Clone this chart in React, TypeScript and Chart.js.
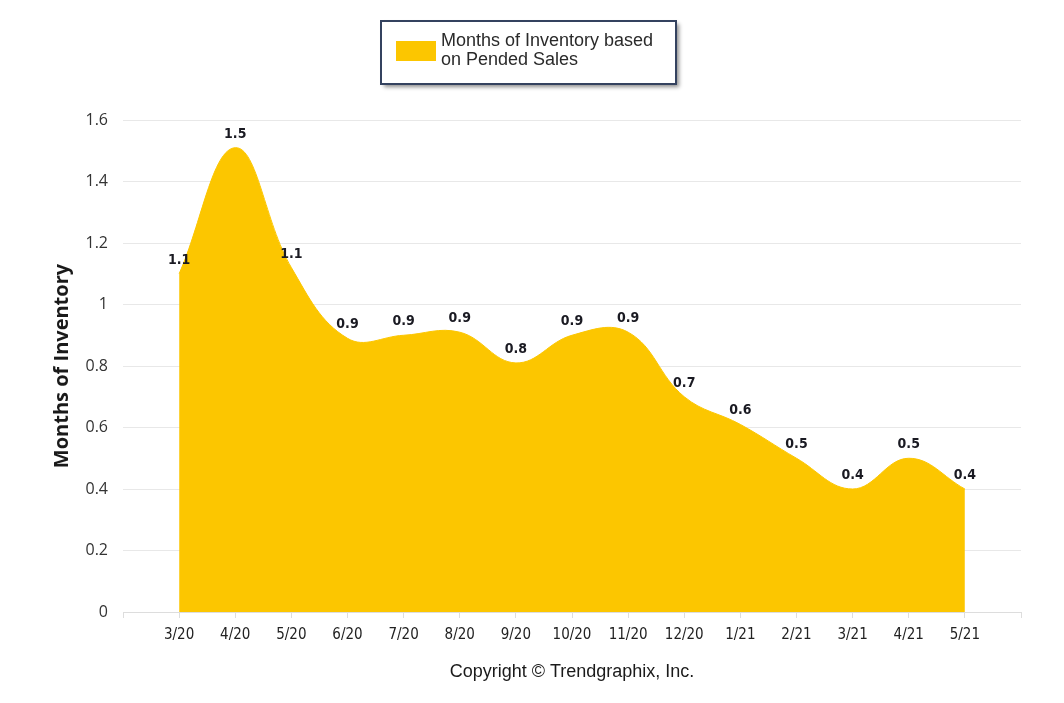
import React, { useEffect, useRef } from "react";
import { Chart, registerables } from "chart.js";

Chart.register(...registerables);

const categories = ["3/20", "4/20", "5/20", "6/20", "7/20", "8/20", "9/20", "10/20", "11/20", "12/20", "1/21", "2/21", "3/21", "4/21", "5/21"];
const inventoryValues = [1.1, 1.51, 1.12, 0.89, 0.9, 0.91, 0.81, 0.9, 0.91, 0.7, 0.61, 0.5, 0.4, 0.5, 0.4];
const yTicks = [0, 0.2, 0.4, 0.6, 0.8, 1, 1.2, 1.4, 1.6];
const seriesName = ["Months of Inventory based", "on Pended Sales"];
const yTitle = "Months of Inventory";
const footer = "Copyright \u00A9 Trendgraphix, Inc.";

const FILL = "#FCC600";

export default function App() {
  const ref = useRef<HTMLCanvasElement | null>(null);
  useEffect(() => {
    document.body.style.margin = "0";
    const labels = ["", ...categories, ""];
    const data = [null, ...inventoryValues, null];

    const decor = {
      id: "decor",
      afterDatasetsDraw(chart: any) {
        const ctx = chart.ctx;
        const meta = chart.getDatasetMeta(0);
        ctx.save();
        ctx.fillStyle = "#1a1a22";
        ctx.font = "bold 14px 'DejaVu Sans Condensed', 'DejaVu Sans'";
        ctx.textAlign = "center";
        ctx.textBaseline = "alphabetic";
        meta.data.forEach((pt: any, i: number) => {
          const v = data[i];
          if (v == null) return;
          ctx.fillText((v as number).toFixed(1), pt.x, pt.y - 10);
        });
        ctx.restore();
      },
      afterDraw(chart: any) {
        const ctx = chart.ctx;
        ctx.save();
        // y title
        ctx.translate(62, 366);
        ctx.rotate(-Math.PI / 2);
        ctx.fillStyle = "#1a1a1a";
        ctx.font = "bold 20px 'Open Sans'";
        ctx.textAlign = "center";
        ctx.textBaseline = "middle";
        ctx.fillText(yTitle, 0, 0);
        ctx.restore();

        // footer
        ctx.save();
        ctx.fillStyle = "#1a1a1a";
        ctx.font = "18px 'Liberation Sans'";
        ctx.textAlign = "center";
        ctx.textBaseline = "middle";
        ctx.fillText(footer, 572, 672);
        ctx.restore();

        // legend box
        ctx.save();
        ctx.shadowColor = "rgba(0,0,0,0.45)";
        ctx.shadowBlur = 4;
        ctx.shadowOffsetX = 3;
        ctx.shadowOffsetY = 3;
        ctx.fillStyle = "#ffffff";
        ctx.fillRect(381, 21, 295, 63);
        ctx.restore();
        ctx.save();
        ctx.strokeStyle = "#34425f";
        ctx.lineWidth = 2;
        ctx.strokeRect(381, 21, 295, 63);
        ctx.fillStyle = FILL;
        ctx.fillRect(396, 41, 40, 20);
        ctx.fillStyle = "#2a2a2a";
        ctx.font = "18px 'Liberation Sans'";
        ctx.textAlign = "left";
        ctx.textBaseline = "middle";
        ctx.fillText(seriesName[0], 441, 41);
        ctx.fillText(seriesName[1], 441, 60);
        ctx.restore();
      },
    };

    const chart = new Chart(ref.current!, {
      type: "line",
      data: {
        labels,
        datasets: [
          {
            label: seriesName.join(" "),
            data,
            backgroundColor: FILL,
            borderColor: FILL,
            borderWidth: 1,
            fill: "origin",
            tension: 0.4,
            pointRadius: 0,
          },
        ],
      },
      options: {
        animation: false,
        responsive: false,
        layout: { padding: { top: 120, right: 43, left: 0, bottom: 0 } },
        plugins: { legend: { display: false }, tooltip: { enabled: false } },
        scales: {
          x: {
            offset: false,
            grid: { drawOnChartArea: false, drawTicks: true, tickLength: 6, color: "#dddddd" },
            border: { display: true, color: "#dddddd" },
            ticks: {
              autoSkip: false,
              maxRotation: 0,
              padding: 8,
              color: "#222",
              font: { family: "'DejaVu Sans Condensed', 'DejaVu Sans'", size: 15 },
            },
            afterFit(scale: any) {
              scale.height = 91;
            },
          },
          y: {
            min: 0,
            max: 1.6,
            afterBuildTicks(scale: any) {
              scale.ticks = yTicks.map((v) => ({ value: v }));
            },
            grid: { color: "#e8e8e8", drawTicks: false },
            border: { display: false },
            ticks: {
              padding: 15,
              color: "#333",
              font: { family: "'Open Sans'", size: 16 },
              callback: (v: any) => String(v),
            },
            afterFit(scale: any) {
              scale.width = 123;
            },
          },
        },
      },
      plugins: [decor],
    });
    return () => chart.destroy();
  }, []);
  return <canvas ref={ref} width={1064} height={703} style={{ display: "block" }} />;
}
